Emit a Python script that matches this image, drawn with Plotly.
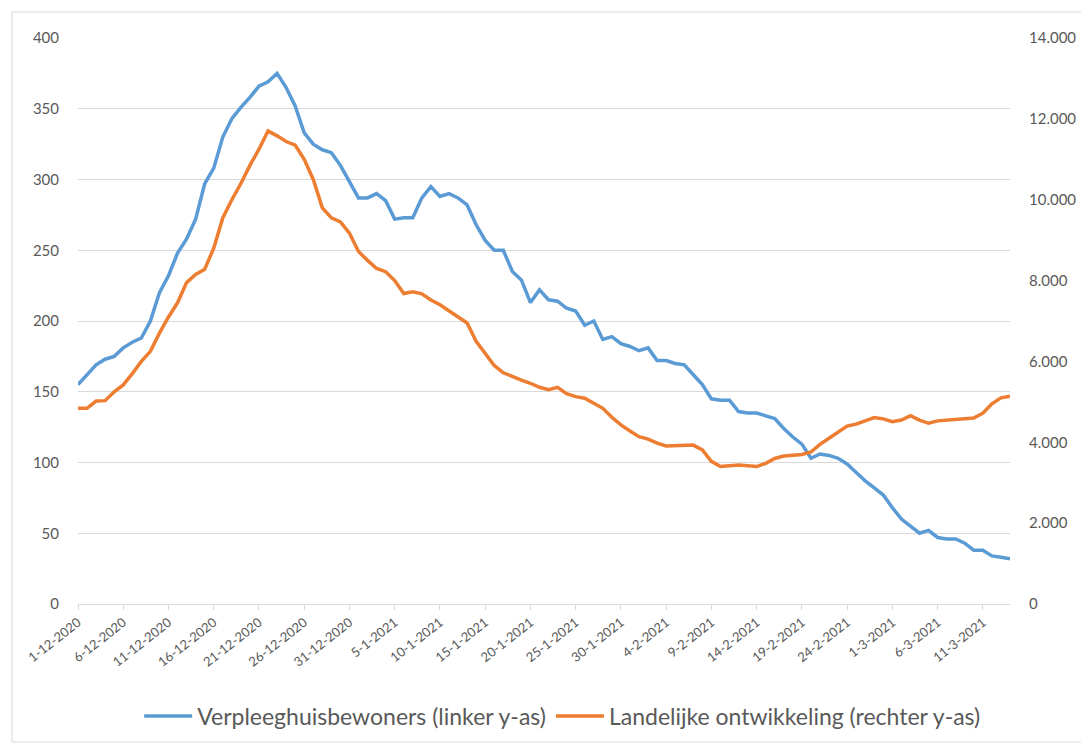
import pandas as pd
import plotly.graph_objects as go

start_date = "2020-12-01"
n_days = 104
dates = pd.date_range(start_date, periods=n_days, freq="D")

verpleeghuis = [
    155, 162, 169, 173, 175, 181, 185, 188, 200, 220,
    232, 248, 258, 272, 297, 308, 330, 343, 351, 358,
    366, 369, 375, 365, 352, 333, 325, 321, 319, 310,
    298, 287, 287, 290, 285, 272, 273, 273, 287, 295,
    288, 290, 287, 282, 268, 257, 250, 250, 235, 229,
    213, 222, 215, 214, 209, 207, 197, 200, 187, 189,
    184, 182, 179, 181, 172, 172, 170, 169, 162, 155,
    145, 144, 144, 136, 135, 135, 133, 131, 124, 118,
    113, 103, 106, 105, 103, 99, 93, 87, 82, 77,
    68, 60, 55, 50, 52, 47, 46, 46, 43, 38,
    38, 34, 33, 32,
]

landelijk = [
    4840, 4840, 5020, 5030, 5250, 5420, 5700, 6000, 6250, 6700,
    7100, 7450, 7950, 8150, 8280, 8800, 9550, 10000, 10400, 10850,
    11250, 11700, 11580, 11440, 11350, 11000, 10500, 9800, 9550, 9450,
    9170, 8720, 8500, 8300, 8220, 8000, 7680, 7720, 7670, 7520,
    7400, 7250, 7100, 6950, 6500, 6200, 5900, 5720, 5620, 5540,
    5460, 5360, 5300, 5360, 5200, 5130, 5090, 4960, 4840, 4620,
    4430, 4280, 4140, 4080, 3980, 3910, 3910, 3910, 3930, 3810,
    3530, 3400, 3420, 3440, 3420, 3400, 3480, 3600, 3660, 3690,
    3700, 3760, 3950, 4100, 4250, 4400, 4450, 4530, 4610, 4580,
    4510, 4550, 4660, 4550, 4470, 4530, 4550, 4550, 4570, 4600,
    4720, 4950, 5100, 5140,
]

tick_labels = [
    "1-12-2020", "6-12-2020", "11-12-2020", "16-12-2020", "21-12-2020",
    "26-12-2020", "31-12-2020", "5-1-2021", "10-1-2021", "15-1-2021",
    "20-1-2021", "25-1-2021", "30-1-2021", "4-2-2021", "9-2-2021",
    "14-2-2021", "19-2-2021", "24-2-2021", "1-3-2021", "6-3-2021",
    "11-3-2021",
]
tick_dates = list(dates[::5])

name_left = "Verpleeghuisbewoners (linker y-as)"
name_right = "Landelijke ontwikkeling (rechter y-as)"

blue = "#5B9BD5"
orange = "#ED7D31"
grey_text = "#595959"
grid = "#D9D9D9"
font_family = "Lato, 'Open Sans', sans-serif"

# page body has an 8px margin, so figure coordinates = page coordinates - 8
off = 8
plot_l, plot_r, plot_t, plot_b = 78 - off, 1010 - off, 38 - off, 604 - off
fig_w, fig_h = 1089 - off, 744 - off
pw, ph = plot_r - plot_l, plot_b - plot_t

fig = go.Figure()
fig.add_trace(go.Scatter(
    x=dates, y=verpleeghuis, name=name_left, mode="lines",
    line=dict(color=blue, width=3.5), yaxis="y",
))
fig.add_trace(go.Scatter(
    x=dates, y=landelijk, name=name_right, mode="lines",
    line=dict(color=orange, width=3.5), yaxis="y2",
))

fig.update_layout(
    width=fig_w, height=fig_h,
    margin=dict(l=plot_l, r=fig_w - plot_r, t=plot_t, b=fig_h - plot_b,
                autoexpand=False),
    paper_bgcolor="white", plot_bgcolor="white",
    separators=",.",
    font=dict(family=font_family, color=grey_text),
    showlegend=True,
    legend=dict(
        orientation="h", x=0.52, xanchor="center",
        y=(plot_b - (716 - off)) / ph, yanchor="middle",
        font=dict(size=23, color=grey_text), itemwidth=48,
        tracegroupgap=0, bgcolor="rgba(0,0,0,0)",
    ),
    xaxis=dict(
        type="date", automargin=False,
        range=[dates[0], dates[-1]],
        tickmode="array", tickvals=tick_dates, ticktext=tick_labels,
        tickangle=-38, tickfont=dict(size=13, color=grey_text),
        showgrid=False, showline=True, linecolor=grid, linewidth=1,
        ticks="outside", ticklen=5, tickcolor=grid,
        zeroline=False,
    ),
    yaxis=dict(
        range=[0, 400], tickmode="linear", tick0=0, dtick=50,
        automargin=False,
        showgrid=True, gridcolor=grid, gridwidth=1,
        zeroline=False, showline=False,
        tickfont=dict(size=15, color=grey_text),
        ticklabelstandoff=18,
    ),
    yaxis2=dict(
        range=[0, 14000], tickmode="linear", tick0=0, dtick=2000,
        automargin=False,
        overlaying="y", side="right", showgrid=False,
        zeroline=False, showline=False, tickformat=",d",
        tickfont=dict(size=15, color=grey_text),
        ticklabelstandoff=18,
    ),
    shapes=[dict(
        type="rect", xref="paper", yref="paper",
        x0=(12 - 78) / pw, x1=(1084 - 78) / pw,
        y0=(604 - 742) / ph, y1=(604 - 12) / ph,
        line=dict(color=grid, width=1), fillcolor="rgba(0,0,0,0)",
        layer="below",
    )],
)

fig.write_html("out.html")
